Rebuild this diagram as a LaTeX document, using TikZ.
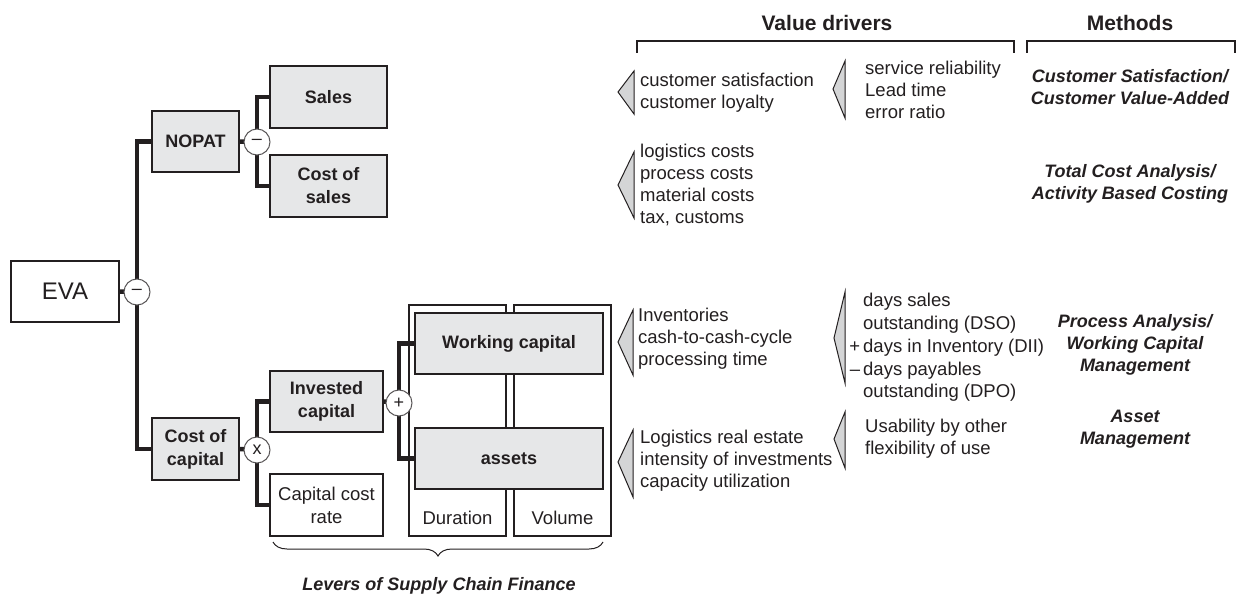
\documentclass[tikz,border=0pt]{standalone}
\usepackage{fontspec}
\setmainfont{Liberation Sans}
\usetikzlibrary{backgrounds,decorations.pathreplacing}
\definecolor{ink}{HTML}{231F20}
\definecolor{boxgray}{HTML}{E6E7E8}
\definecolor{trigray}{HTML}{D4D5D6}
\tikzset{
  box/.style={draw=ink, line width=1.3pt, fill=boxgray, text=ink, inner sep=0pt,
    align=center, font=\bfseries\fontsize{18}{23}\selectfont},
  plainbox/.style={box, fill=white, font=\fontsize{18.5}{23}\selectfont},
  column/.style={draw=ink, line width=1.3pt, inner sep=0pt},
  op/.style={circle, draw=ink!75, line width=1pt, fill=white, minimum size=26pt,
    inner sep=0pt, text=ink, font=\fontsize{18}{18}\selectfont},
  link/.style={draw=ink, line width=4.5pt, line join=miter},
  drv/.style={text=ink, inner sep=0pt, anchor=west, align=left,
    font=\fontsize{18.5}{22}\selectfont},
  meth/.style={text=ink, inner sep=0pt, align=center,
    font=\bfseries\itshape\fontsize{18}{22}\selectfont},
  head/.style={text=ink, inner sep=0pt, font=\bfseries\fontsize{21}{24}\selectfont},
  tri/.style={draw=ink, line width=1pt, fill=trigray, line join=miter},
  bracket/.style={draw=ink, line width=1.3pt},
}
\begin{document}
\begin{tikzpicture}[x=1pt,y=-1pt]
\useasboundingbox (0,0) rectangle (1244,599);

% Duration / Volume columns
\node[column, minimum width=97pt, minimum height=231pt] (dur) at (457.5,420.5) {};
\node[column, minimum width=97pt, minimum height=231pt] (vol) at (562.5,420.5) {};
\node[text=ink, inner sep=0pt, font=\fontsize{18.5}{22}\selectfont] (durl) at (457.5,518) {Duration};
\node[text=ink, inner sep=0pt, font=\fontsize{18.5}{22}\selectfont] (voll) at (562.5,518) {Volume};

% value tree boxes
\node[plainbox, minimum width=108pt, minimum height=61pt, font=\fontsize{24}{26}\selectfont] (eva) at (65,291.5) {EVA};
\node[box, minimum width=87pt, minimum height=61pt] (nopat) at (195.5,141.5) {NOPAT};
\node[box, minimum width=117pt, minimum height=62pt] (sales) at (328.5,97) {Sales};
\node[box, minimum width=117pt, minimum height=62pt] (cos) at (328.5,186) {Cost of\\sales};
\node[box, minimum width=87pt, minimum height=62pt] (coc) at (195.5,449) {Cost of\\capital};
\node[box, minimum width=113pt, minimum height=61pt] (inv) at (326.5,401.5) {Invested\\capital};
\node[plainbox, minimum width=113pt, minimum height=62pt] (ccr) at (326.5,505) {Capital cost\\rate};
\node[box, minimum width=188pt, minimum height=61pt] (wc) at (509,343.5) {Working capital};
\node[box, minimum width=188pt, minimum height=61pt] (ast) at (509,458.5) {assets};

% operators
\node[op] (o1) at (137,292) {--};
\node[op] (o2) at (257,142) {--};
\node[op] (o3) at (257,450) {x};
\node[op] (o4) at (399,403) {+};

% tree connectors
\begin{scope}[on background layer]
  \draw[link] (eva.east) -- (o1.center);
  \draw[link] (nopat.west) -| (o1.center);
  \draw[link] (coc.west) -| (o1.center);
  \draw[link] (nopat.east) -- (o2.center);
  \draw[link] (sales.west) -| (o2.center);
  \draw[link] (cos.west) -| (o2.center);
  \draw[link] (coc.east) -- (o3.center);
  \draw[link] (inv.west) -| (o3.center);
  \draw[link] (ccr.west) -| (o3.center);
  \draw[link] (inv.east) -- (o4.center);
  \draw[link] (wc.west) -| (o4.center);
  \draw[link] (ast.west) -| (o4.center);
\end{scope}

% brace under the levers
\draw[ink, line width=1pt, decorate, decoration={brace, mirror, amplitude=14pt}]
  (273,542) -- (603,542);
\node[meth] (levers) at (439,586) {Levers of Supply Chain Finance};

% headings and brackets
\node[head] (vdh) at (827,23) {Value drivers};
\node[head] (mh) at (1130,23) {Methods};
\draw[bracket] (637,53) -- (637,41) -- (1014,41) -- (1014,53);
\draw[bracket] (1027,53) -- (1027,41) -- (1235,41) -- (1235,53);

% driver wedges
\draw[tri] (618,92) -- (634,71) -- (634,114) -- cycle;
\draw[tri] (618,185) -- (634,152) -- (634,218) -- cycle;
\draw[tri] (833,89) -- (845,61) -- (845,118) -- cycle;
\draw[tri] (618,342) -- (633,310) -- (633,375) -- cycle;
\draw[tri] (618,462) -- (633,430) -- (633,497) -- cycle;
\draw[tri] (834,338) -- (845,292) -- (845,383) -- cycle;
\draw[tri] (834,439) -- (845,412) -- (845,468) -- cycle;

% value drivers
\node[drv] (d1) at (640,92.5) {customer satisfaction\\customer loyalty};
\node[drv] (d2) at (640,185) {logistics costs\\process costs\\material costs\\tax, customs};
\node[drv] (d3) at (865,89.5) {service reliability\\Lead time\\error ratio};
\node[drv] (d4) at (638,339) {Inventories\\cash-to-cash-cycle\\processing time};
\node[drv] (d5) at (640,461) {Logistics real estate\\intensity of investments\\capacity utilization};
\node[drv, font=\fontsize{18.5}{22.75}\selectfont] (d6) at (863,347.5)
  {days sales\\outstanding (DSO)\\\llap{+\,}days in Inventory (DII)\\\llap{--\,}days payables\\outstanding (DPO)};
\node[drv] (d7) at (865,439) {Usability by other\\flexibility of use};

% methods
\node[meth] (m1) at (1130,87.5) {Customer Satisfaction/\\Customer Value-Added};
\node[meth] (m2) at (1130,184) {Total Cost Analysis/\\Activity Based Costing};
\node[meth] (m3) at (1135,345) {Process Analysis/\\Working Capital\\Management};
\node[meth] (m4) at (1135,429) {Asset\\Management};
\end{tikzpicture}
\end{document}
